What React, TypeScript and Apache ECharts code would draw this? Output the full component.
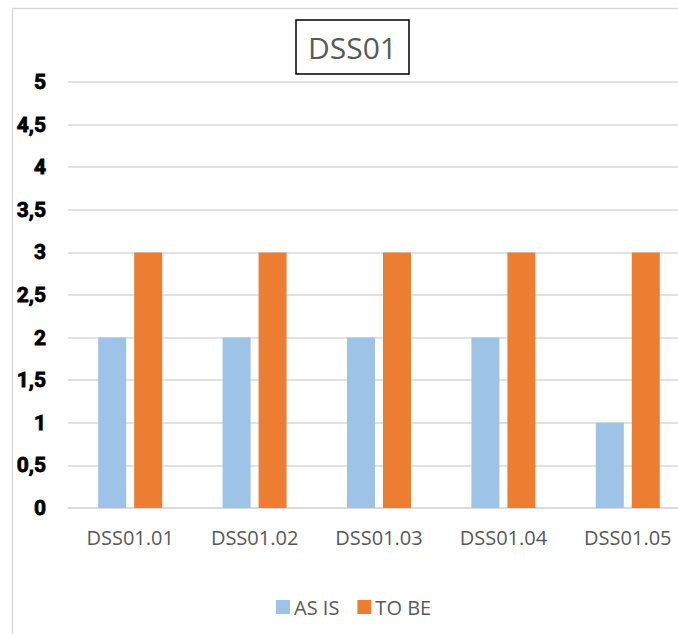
import React, { useEffect, useRef } from "react";
import * as echarts from "echarts";

const categories = ["DSS01.01", "DSS01.02", "DSS01.03", "DSS01.04", "DSS01.05"];
const asIs = [2, 2, 2, 2, 1];
const toBe = [3, 3, 3, 3, 3];
const seriesNames = ["AS IS", "TO BE"];
const chartTitle = "DSS01";

export default function App() {
  const ref = useRef<HTMLDivElement>(null);
  useEffect(() => {
    if (!ref.current) return;
    const chart = echarts.init(ref.current, null, { renderer: "svg" });
    chart.setOption({
      animation: false,
      backgroundColor: "#fff",
      title: {
        text: chartTitle,
        left: 296,
        top: 20,
        padding: [7, 12],
        borderColor: "#000",
        borderWidth: 1.5,
        textStyle: {
          fontFamily: "Open Sans",
          fontSize: 30,
          fontWeight: "normal",
          color: "#595959",
          lineHeight: 40,
        },
      },
      legend: {
        left: 271,
        top: 592,
        itemWidth: 14,
        itemHeight: 14,
        itemGap: 18,
        icon: "rect",
        textStyle: { fontFamily: "Open Sans", fontSize: 20, color: "#595959", padding: [0, 0, 0, -1] },
        data: seriesNames,
      },
      graphic: [
        {
          type: "rect",
          left: 10,
          top: 6,
          shape: { width: 800, height: 800 },
          style: { fill: "none", stroke: "#d9d9d9", lineWidth: 1.5 },
          silent: true,
          z: -1,
        },
      ],
      grid: { left: 68, top: 82, width: 622, height: 426 },
      xAxis: {
        type: "category",
        data: categories,
        axisLine: { lineStyle: { color: "#d9d9d9", width: 1.5 } },
        axisTick: { show: false },
        axisLabel: { fontFamily: "Open Sans", fontSize: 20, color: "#595959", margin: 19 },
      },
      yAxis: {
        type: "value",
        min: 0,
        max: 5,
        interval: 0.5,
        axisLine: { show: false },
        axisTick: { show: false },
        splitLine: { lineStyle: { color: "#d9d9d9", width: 1.5 } },
        axisLabel: {
          fontFamily: "Roboto",
          fontWeight: "bold",
          fontSize: 21,
          color: "#000",
          textBorderColor: "#000",
          textBorderWidth: 0.8,
          margin: 22,
          formatter: (v: number) => String(v).replace(".", ","),
        },
      },
      series: [
        {
          name: seriesNames[0],
          type: "bar",
          data: asIs,
          barWidth: 28,
          barGap: "28.6%",
          itemStyle: { color: "#9DC3E6" },
        },
        {
          name: seriesNames[1],
          type: "bar",
          data: toBe,
          barWidth: 28,
          itemStyle: { color: "#ED7D31" },
        },
      ],
    });
    return () => chart.dispose();
  }, []);
  return (
    <div style={{ position: "fixed", left: 0, top: 0, width: 678, height: 634, overflow: "hidden", background: "#fff" }}>
      <div ref={ref} style={{ position: "absolute", left: 0, top: 0, width: 720, height: 634 }} />
    </div>
  );
}
